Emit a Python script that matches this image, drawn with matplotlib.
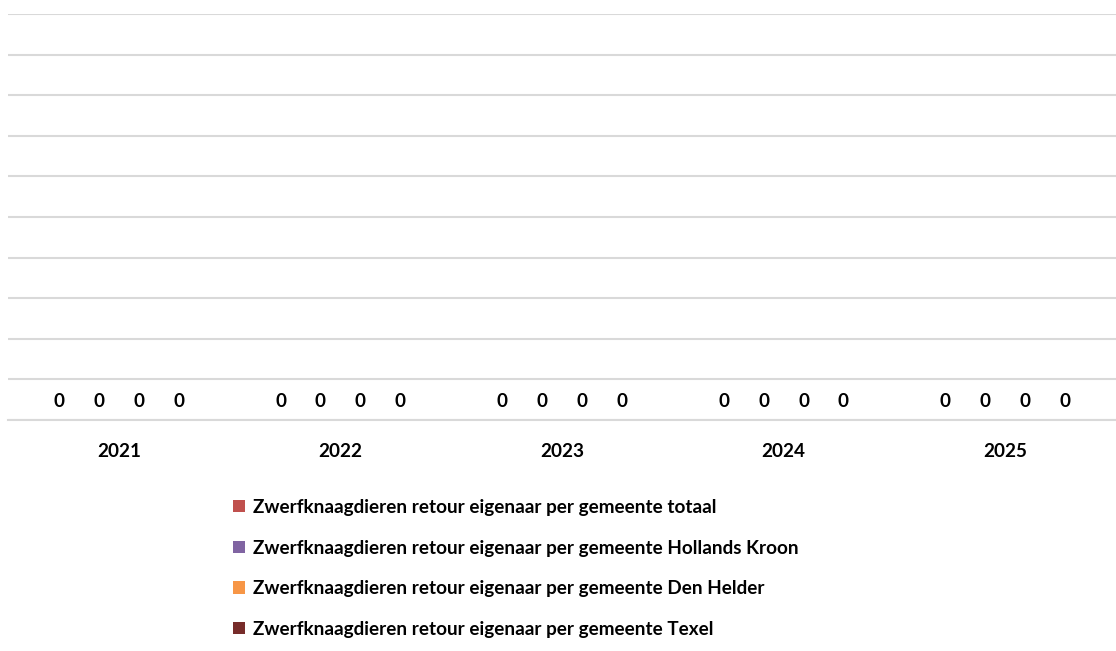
import matplotlib
matplotlib.use("Agg")
import matplotlib.pyplot as plt
import numpy as np
from matplotlib.patches import Patch

years = ["2021", "2022", "2023", "2024", "2025"]
series_names = [
    "Zwerfknaagdieren retour eigenaar per gemeente totaal",
    "Zwerfknaagdieren retour eigenaar per gemeente Hollands Kroon",
    "Zwerfknaagdieren retour eigenaar per gemeente Den Helder",
    "Zwerfknaagdieren retour eigenaar per gemeente Texel",
]
totaal = [0, 0, 0, 0, 0]
hollands_kroon = [0, 0, 0, 0, 0]
den_helder = [0, 0, 0, 0, 0]
texel = [0, 0, 0, 0, 0]
colors = ["#C0504D", "#8064A2", "#F79646", "#772C2A"]

plt.rcParams['font.family'] = ['Lato', 'DejaVu Sans']
plt.rcParams['font.weight'] = 'bold'

FS = 13.6
W, H = 1116, 651
fig = plt.figure(figsize=(W / 100, H / 100), dpi=100)
ax = fig.add_axes([8 / W, 1 - 420 / H, 1 - 8 / W, (420 - 14) / H])

x = np.arange(len(years))
width = 0.18
offsets = [-1.5 * width, -0.5 * width, 0.5 * width, 1.5 * width]
all_series = [totaal, hollands_kroon, den_helder, texel]
for vals, off, c in zip(all_series, offsets, colors):
    ax.bar(x + off, vals, width=width * 0.9, color=c)
    for xi, v in zip(x + off, vals):
        ax.text(xi, v + 0.45, f"{v}", ha='center', va='center',
                fontsize=FS, fontweight='bold', color='black')

ax.set_xlim(-0.5, len(years) - 0.5)
ax.set_ylim(0, 10)
ax.set_yticks(np.arange(0, 11, 1))
ax.yaxis.grid(True, color='#D9D9D9', linewidth=1.5)
ax.set_axisbelow(True)
ax.tick_params(axis='y', left=False, labelleft=False)
ax.tick_params(axis='x', bottom=False, pad=13)
ax.set_xticks(x)
ax.set_xticklabels(years, fontsize=FS, fontweight='bold')
for s in ['top', 'right', 'left']:
    ax.spines[s].set_visible(False)
ax.spines['bottom'].set_color('#D9D9D9')
ax.spines['bottom'].set_linewidth(1.5)

handles = [Patch(facecolor=c, edgecolor='none') for c in colors]
fig.legend(handles, series_names, loc='upper left',
           bbox_to_anchor=(233 / W, 1 - 499 / H), frameon=False,
           prop={'size': FS, 'weight': 'bold'},
           handlelength=0.62, handleheight=0.62, handletextpad=0.45,
           labelspacing=1.25, borderaxespad=0, borderpad=0)

fig.savefig("out.png", dpi=100)
